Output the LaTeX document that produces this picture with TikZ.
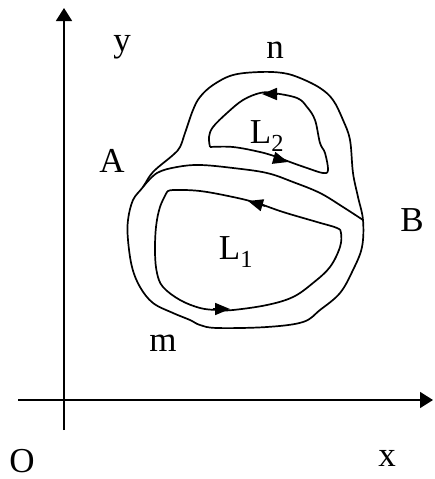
\documentclass[tikz,border=0pt]{standalone}
\usepackage{fontspec}
\setmainfont{Liberation Serif}
\usetikzlibrary{arrows.meta}

\tikzset{
  curve/.style={line width=1.7pt, line join=round},
  axis/.style={line width=1.6pt, -{Triangle[length=13pt,width=16pt]}},
  looptip/.style={line width=1.7pt, -{Triangle[length=15pt,width=12pt]}},
  lab/.style={font=\fontsize{35}{40}\selectfont, inner sep=0pt}
}

\begin{document}
\begin{tikzpicture}[x=1pt,y=-1pt]
\useasboundingbox (0,0) rectangle (434,479);

% Axes
\coordinate (xstart) at (18,400);
\coordinate (xend) at (433,400);
\coordinate (ystart) at (64,430);
\coordinate (yend) at (64,8);
\draw[axis] (xstart) -- (xend);
\draw[axis] (ystart) -- (yend);

% Outer boundary and the cut from A to B
\coordinate (A) at (143,187);
\coordinate (B) at (363,220);
\draw[curve] plot[smooth cycle, tension=0.6] coordinates {
  (A) (153,172) (173,155) (180,147) (185,133) (193,110) (200,97) (213,85)
  (233,75) (260,72) (283,73) (300,78) (320,88) (333,100) (343,120) (350,140)
  (353,173) (358,197) (B) (362,247) (353,270) (340,293) (320,310) (303,322)
  (267,327) (217,328) (200,325) (190,320) (173,313) (153,303) (140,287)
  (132,267) (128,240) (128,220) (133,200)};
\draw[curve] plot[smooth, tension=0.6] coordinates {
  (A) (157,173) (177,167) (200,165) (233,168) (267,173) (293,182) (320,193)
  (343,207) (B)};

% Loop L2
\draw[curve] plot[smooth, tension=0.6] coordinates {
  (210,147) (233,147) (260,152) (277,157) (290,162) (307,168) (323,173)
  (328,170) (325,153) (320,143) (315,120) (307,107) (297,98) (273,93)
  (260,93) (243,100) (227,113) (213,127) (209,137) (210,147)};

% Loop L1
\draw[curve] plot[smooth, tension=0.6] coordinates {
  (167,192) (173,190) (200,191) (233,197) (257,203) (283,212) (317,222)
  (337,228) (341,233) (340,247) (330,267) (313,283) (293,297) (267,305)
  (233,310) (217,310) (200,308) (180,300) (163,287) (157,273) (155,253)
  (156,227) (160,207) (167,192)};

% Direction marks
\coordinate (ltop1) at (265,206);
\coordinate (ltop2) at (248,201);
\coordinate (lbot1) at (213,309);
\coordinate (lbot2) at (230,309);
\coordinate (ntop1) at (278,94);
\coordinate (ntop2) at (262,94);
\coordinate (nbot1) at (274,158);
\coordinate (nbot2) at (288,162);
\draw[looptip] (ltop1) -- (ltop2);
\draw[looptip] (lbot1) -- (lbot2);
\draw[looptip] (ntop1) -- (ntop2);
\draw[looptip] (nbot1) -- (nbot2);

% Labels
\node[lab] (ylab) at (122,47) {y};
\node[lab] (nlab) at (275,50) {n};
\node[lab] (Alab) at (112,161) {A};
\node[lab] (Blab) at (412,220) {B};
\node[lab] (mlab) at (163,343) {m};
\node[lab] (Olab) at (22,461) {O};
\node[lab] (xlab) at (387,458) {x};
\node[lab] (Ltwo) at (267,136) {L\textsubscript{2}};
\node[lab] (Lone) at (236,252) {L\textsubscript{1}};
\end{tikzpicture}
\end{document}
